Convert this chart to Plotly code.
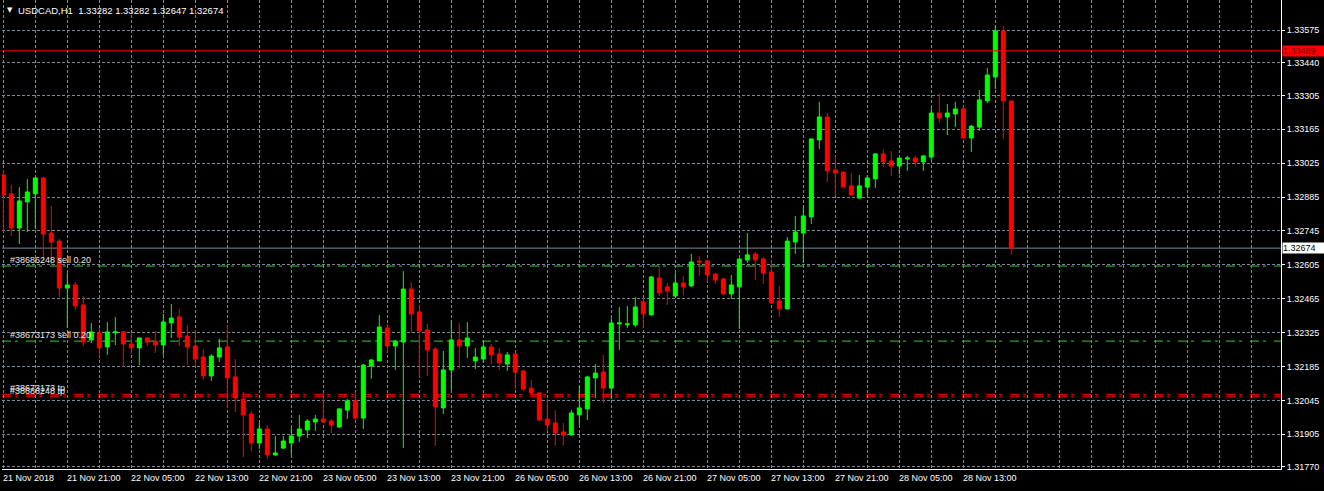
import plotly.graph_objects as go

chart_title = "USDCAD,H1  1.33282 1.33282 1.32647 1.32674"

opens = [1.32976, 1.32898, 1.32757, 1.32865, 1.32898, 1.32964, 1.32736, 1.32703, 1.32509, 1.32522,
         1.32439, 1.32295, 1.32324, 1.32266, 1.32324, 1.32328, 1.32278, 1.32262, 1.32303, 1.32290,
         1.32274, 1.32365, 1.32390, 1.32311, 1.32270, 1.32224, 1.32146, 1.32224, 1.32266, 1.32142,
         1.32051, 1.31989, 1.31869, 1.31927, 1.31820, 1.31848, 1.31869, 1.31898, 1.31923, 1.31956,
         1.31968, 1.31960, 1.31935, 1.32005, 1.32043, 1.31972, 1.32187, 1.32208, 1.32344, 1.32270,
         1.32286, 1.32505, 1.32410, 1.32336, 1.32257, 1.32014, 1.32171, 1.32295, 1.32270, 1.32208,
         1.32216, 1.32266, 1.32237, 1.32195, 1.32237, 1.32167, 1.32096, 1.32076, 1.31968, 1.31952,
         1.31915, 1.31902, 1.31985, 1.32010, 1.32138, 1.32162, 1.32096, 1.32361, 1.32357, 1.32357,
         1.32452, 1.32398, 1.32551, 1.32514, 1.32476, 1.32530, 1.32518, 1.32621, 1.32621, 1.32567,
         1.32547, 1.32485, 1.32514, 1.32625, 1.32650, 1.32629, 1.32575, 1.32456, 1.32423, 1.32699,
         1.32736, 1.32803, 1.33121, 1.33216, 1.32997, 1.32988, 1.32931, 1.32881, 1.32926, 1.32960,
         1.33063, 1.33034, 1.33013, 1.33042, 1.33046, 1.33030, 1.33050, 1.33232, 1.33216, 1.33228,
         1.33249, 1.33129, 1.33174, 1.33282, 1.33381, 1.33571, 1.33282]

highs = [1.32997, 1.32935, 1.32926, 1.32960, 1.32966, 1.32966, 1.32848, 1.32712, 1.32571, 1.32534,
         1.32476, 1.32365, 1.32344, 1.32369, 1.32390, 1.32330, 1.32324, 1.32305, 1.32307, 1.32332,
         1.32402, 1.32443, 1.32423, 1.32357, 1.32336, 1.32257, 1.32237, 1.32299, 1.32357, 1.32216,
         1.32080, 1.32001, 1.31952, 1.31943, 1.31898, 1.31898, 1.31931, 1.31985, 1.31968, 1.31985,
         1.32076, 1.31968, 1.32012, 1.32051, 1.32080, 1.32195, 1.32216, 1.32398, 1.32361, 1.32295,
         1.32580, 1.32534, 1.32439, 1.32361, 1.32266, 1.32249, 1.32377, 1.32365, 1.32369, 1.32262,
         1.32290, 1.32278, 1.32262, 1.32245, 1.32240, 1.32169, 1.32129, 1.32080, 1.32051, 1.32005,
         1.31952, 1.32005, 1.32105, 1.32144, 1.32195, 1.32233, 1.32385, 1.32431, 1.32435, 1.32472,
         1.32468, 1.32559, 1.32600, 1.32530, 1.32571, 1.32559, 1.32650, 1.32642, 1.32625, 1.32569,
         1.32551, 1.32563, 1.32633, 1.32736, 1.32658, 1.32637, 1.32625, 1.32518, 1.32720, 1.32807,
         1.32844, 1.33127, 1.33278, 1.33232, 1.33055, 1.32990, 1.32984, 1.32976, 1.32976, 1.33067,
         1.33083, 1.33075, 1.33048, 1.33055, 1.33055, 1.33057, 1.33253, 1.33311, 1.33269, 1.33278,
         1.33261, 1.33183, 1.33327, 1.33418, 1.33592, 1.33592, 1.33282]

lows = [1.32741, 1.32724, 1.32691, 1.32741, 1.32753, 1.32625, 1.32604, 1.32472, 1.32344, 1.32418,
        1.32270, 1.32282, 1.32224, 1.32233, 1.32274, 1.32183, 1.32237, 1.32191, 1.32270, 1.32241,
        1.32233, 1.32303, 1.32270, 1.32191, 1.32183, 1.32129, 1.32125, 1.32204, 1.32014, 1.31997,
        1.31811, 1.31836, 1.31844, 1.31803, 1.31815, 1.31844, 1.31820, 1.31873, 1.31890, 1.31919,
        1.31954, 1.31910, 1.31931, 1.31968, 1.31960, 1.31927, 1.32134, 1.32206, 1.32241, 1.32171,
        1.31848, 1.32324, 1.32138, 1.32146, 1.31857, 1.31989, 1.32088, 1.32175, 1.32220, 1.32175,
        1.32200, 1.32195, 1.32171, 1.32167, 1.32092, 1.32084, 1.32067, 1.31960, 1.31919, 1.31857,
        1.31857, 1.31900, 1.31943, 1.31964, 1.32055, 1.32034, 1.32051, 1.32253, 1.32344, 1.32348,
        1.32344, 1.32396, 1.32476, 1.32439, 1.32472, 1.32480, 1.32514, 1.32559, 1.32534, 1.32526,
        1.32480, 1.32464, 1.32340, 1.32613, 1.32542, 1.32526, 1.32445, 1.32390, 1.32421, 1.32650,
        1.32613, 1.32774, 1.33083, 1.32947, 1.32889, 1.32924, 1.32891, 1.32879, 1.32893, 1.32922,
        1.33009, 1.32972, 1.32980, 1.32993, 1.33009, 1.32993, 1.33038, 1.33191, 1.33141, 1.33174,
        1.33125, 1.33071, 1.33158, 1.33274, 1.33331, 1.33125, 1.32647]

closes = [1.32893, 1.32757, 1.32869, 1.32906, 1.32964, 1.32732, 1.32699, 1.32509, 1.32522, 1.32435,
          1.32286, 1.32328, 1.32262, 1.32328, 1.32328, 1.32278, 1.32262, 1.32303, 1.32286, 1.32274,
          1.32369, 1.32385, 1.32307, 1.32266, 1.32216, 1.32146, 1.32228, 1.32262, 1.32138, 1.32055,
          1.31985, 1.31869, 1.31927, 1.31820, 1.31828, 1.31877, 1.31898, 1.31927, 1.31960, 1.31968,
          1.31956, 1.31943, 1.32010, 1.32043, 1.31972, 1.32191, 1.32212, 1.32348, 1.32270, 1.32290,
          1.32505, 1.32402, 1.32332, 1.32253, 1.32018, 1.32171, 1.32295, 1.32270, 1.32303, 1.32224,
          1.32266, 1.32233, 1.32200, 1.32233, 1.32162, 1.32092, 1.32076, 1.31964, 1.31943, 1.31910,
          1.31902, 1.31993, 1.32014, 1.32142, 1.32158, 1.32096, 1.32365, 1.32365, 1.32361, 1.32431,
          1.32402, 1.32555, 1.32489, 1.32497, 1.32530, 1.32514, 1.32617, 1.32617, 1.32563, 1.32542,
          1.32485, 1.32522, 1.32629, 1.32646, 1.32625, 1.32571, 1.32447, 1.32423, 1.32703, 1.32741,
          1.32807, 1.33125, 1.33216, 1.32993, 1.32984, 1.32926, 1.32893, 1.32931, 1.32964, 1.33063,
          1.33030, 1.33013, 1.33046, 1.33046, 1.33030, 1.33055, 1.33232, 1.33212, 1.33232, 1.33249,
          1.33129, 1.33178, 1.33286, 1.33389, 1.33571, 1.33282, 1.32674]

price_tick_labels = ["1.33575", "1.33440", "1.33305", "1.33165", "1.33025", "1.32885", "1.32745",
                     "1.32605", "1.32465", "1.32325", "1.32185", "1.32045", "1.31905", "1.31770"]

time_tick_labels = ["21 Nov 2018", "21 Nov 21:00", "22 Nov 05:00", "22 Nov 13:00", "22 Nov 21:00",
                    "23 Nov 05:00", "23 Nov 13:00", "23 Nov 21:00", "26 Nov 05:00", "26 Nov 13:00",
                    "26 Nov 21:00", "27 Nov 05:00", "27 Nov 13:00", "27 Nov 21:00", "28 Nov 05:00",
                    "28 Nov 13:00"]
bars_per_time_label = 8

alert_price = 1.33489
bid_price = 1.32674

order_labels = ["#38686248 sell 0.20", "#38673173 sell 0.20", "#38673173 tp", "#38686248 tp"]
order_prices = [1.32600, 1.32290, 1.32070, 1.32060]
order_colors = ["#32CD32", "#32CD32", "#FF0000", "#FF0000"]

# ---------------------------------------------------------------
W, H = 1324, 491
ML, MR, MT, MB = 2, 43, 0, 22
plot_w = W - ML - MR
plot_h = H - MT - MB
bar_px = 8
first_bar_px = 1.3
n = len(opens)
x_idx = list(range(n))
x0 = -first_bar_px / bar_px
x1 = x0 + plot_w / bar_px
y_lo, y_hi = 1.317617, 1.336989

BG = "#000000"
GRID = "#778899"
UP = "#00FF00"
DN = "#FF0000"
FONT = "Liberation Sans"

fig = go.Figure()
fig.add_trace(go.Candlestick(
    x=x_idx, open=opens, high=highs, low=lows, close=closes,
    increasing=dict(line=dict(color=UP, width=1), fillcolor=UP),
    decreasing=dict(line=dict(color=DN, width=1), fillcolor=DN),
    whiskerwidth=0, hoverinfo="skip", showlegend=False,
))

tick_idx = list(range(0, n, bars_per_time_label))[:len(time_tick_labels)]

shapes = []
shapes.append(dict(type="line", xref="paper", x0=0, x1=1, yref="y", y0=alert_price, y1=alert_price,
                   line=dict(color="#FF0000", width=1), layer="above"))
shapes.append(dict(type="line", xref="paper", x0=0, x1=1, yref="y", y0=bid_price, y1=bid_price,
                   line=dict(color="#778899", width=1), layer="below"))
for p, c in zip(order_prices, order_colors):
    shapes.append(dict(type="line", xref="paper", x0=0, x1=1, yref="y", y0=p, y1=p,
                       line=dict(color=c, width=1, dash="9px,4px,3px,8px"), layer="below"))

annotations = []
annotations.append(dict(text="▼", xref="paper", yref="paper", x=(5 - ML) / plot_w, y=1 - 10.5 / plot_h,
                        xanchor="left", yanchor="middle", showarrow=False,
                        font=dict(family="DejaVu Sans", size=7, color="white")))
annotations.append(dict(text=chart_title, xref="paper", yref="paper", x=(16 - ML) / plot_w,
                        y=1 - 10.5 / plot_h, xanchor="left", yanchor="middle", showarrow=False,
                        font=dict(family=FONT, size=9.5, color="white")))
for i, lab in zip(tick_idx, time_tick_labels):
    annotations.append(dict(text=lab, xref="x", yref="paper", x=i, y=0, xanchor="left", yanchor="top",
                            xshift=-2, yshift=-2, showarrow=False, font=dict(family=FONT, size=9, color="white")))
for lab, p in zip(order_labels, order_prices):
    annotations.append(dict(text=lab, xref="paper", yref="y", x=(9 - ML) / plot_w, y=p,
                            xanchor="left", yanchor="bottom", showarrow=False, borderpad=0,
                            font=dict(family=FONT, size=9, color="#E8E8E8")))
annotations.append(dict(text="1.33489", xref="paper", yref="y", x=1, y=alert_price, xanchor="left",
                        yanchor="middle", xshift=1, showarrow=False, bgcolor="#FF0000", borderpad=0,
                        width=42, align="left", font=dict(family=FONT, size=9, color="#7A0000")))
annotations.append(dict(text="1.32674", xref="paper", yref="y", x=1, y=bid_price, xanchor="left",
                        yanchor="middle", xshift=1, showarrow=False, bgcolor="#FFFFFF", borderpad=0,
                        width=42, align="left", font=dict(family=FONT, size=9, color="#000000")))

fig.update_layout(
    width=W, height=H, margin=dict(l=ML, r=MR, t=MT, b=MB, pad=0),
    paper_bgcolor=BG, plot_bgcolor=BG, showlegend=False,
    boxgap=0.5, boxgroupgap=0,
    shapes=shapes, annotations=annotations,
    xaxis=dict(range=[x0, x1], tickmode="linear", tick0=0, dtick=4, showticklabels=False, ticks="",
               showgrid=True, gridcolor=GRID, griddash="3px,2px", gridwidth=1, zeroline=False,
               showline=True, linecolor="white", linewidth=1, rangeslider=dict(visible=False),
               fixedrange=True),
    xaxis2=dict(range=[x0, x1], overlaying="x", anchor="y", side="bottom", tickmode="array",
                tickvals=tick_idx, showticklabels=False, ticks="outside", ticklen=4, tickcolor="white",
                showgrid=False, zeroline=False, showline=False, fixedrange=True),
    yaxis=dict(range=[y_lo, y_hi], side="right", tickmode="array",
               tickvals=[float(s) for s in price_tick_labels], ticktext=price_tick_labels,
               ticks="outside", ticklen=3, tickcolor="white",
               tickfont=dict(family=FONT, size=9, color="white"),
               showgrid=True, gridcolor=GRID, griddash="3px,2px", gridwidth=1, zeroline=False,
               showline=True, linecolor="white", linewidth=1, fixedrange=True),
)

fig.write_html("out.html", config={"displayModeBar": False},
               post_script="document.body.style.margin='0';document.body.style.background='#000';")
